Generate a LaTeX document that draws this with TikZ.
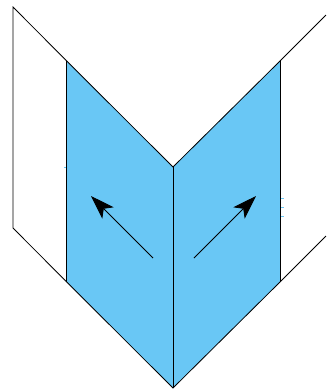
\documentclass[tikz,border=0pt]{standalone}
\usepackage{tikz}
\usetikzlibrary{arrows.meta}
\definecolor{mblue}{rgb}{0.41, 0.78, 0.96}
\tikzset{edge/.style = {line width = 0.6pt}}
\tikzset{vec/.style = {line width = 0.6pt, -{Stealth[length = 18pt, width = 12pt, inset = 4.5pt]}}}
\tikzset{tick/.style = {mblue, line width = 0.5pt}}

\begin{document}
\begin{tikzpicture}[x=0.75pt, y=-0.75pt]
      \useasboundingbox (0, 0) rectangle (326, 390);
      \coordinate (topleft) at (13, 7);
      \coordinate (botleft) at (13, 228);
      \coordinate (topinl) at (66.7, 61);
      \coordinate (botinl) at (66.7, 282);
      \coordinate (notch) at (173, 167);
      \coordinate (apex) at (173, 388);
      \coordinate (topinr) at (280, 61);
      \coordinate (botinr) at (280, 282);
      \coordinate (topright) at (326, 15);
      \coordinate (botright) at (326, 236);
      \fill [mblue] (topinl) -- (notch) -- (topinr) -- (botinr) -- (apex) -- (botinl) -- cycle;
      \draw [edge] (topright) -- (topinr) -- (notch) -- (topinl) -- (topleft) -- (botleft) -- (botinl) -- (apex) -- (botinr) -- (botright);
      \draw [edge] (topinl) -- (botinl);
      \draw [edge] (topinr) -- (botinr);
      \draw [edge] (notch) -- (apex);
      \coordinate (taill) at (153, 258);
      \coordinate (headl) at (91, 196);
      \coordinate (tailr) at (194, 258);
      \coordinate (headr) at (256, 196);
      \draw [vec] (taill) -- (headl);
      \draw [vec] (tailr) -- (headr);
      \foreach \y in {198, 207, 216} {
        \draw [tick] (281, \y) -- (284, \y);
      }
      \draw [tick] (64, 167) -- (66, 167);
    \end{tikzpicture}
\end{document}
